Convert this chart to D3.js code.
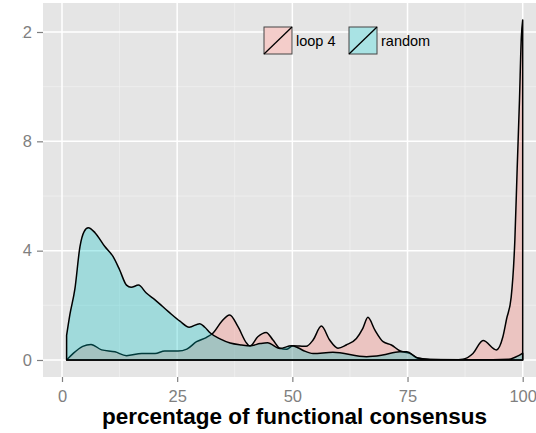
<!DOCTYPE html>
<html lang="en">
<head>
<meta charset="UTF-8">
<title>Functional consensus density</title>
<script src="https://d3js.org/d3.v7.min.js"></script>
<style>
    body { margin: 0; background: #fff; font-family: "Liberation Sans", Arial, sans-serif; }
    .tick text { fill: #7f7f7f; }
    .tick line { stroke: #7f7f7f; stroke-width: 1.2; }
</style>
</head>
<body>
<div id="chart"></div>
<script>
    // density estimates: [percentage, density]
    const loop4 = [
        [1, 0], [2.5, 0.25], [4.5, 0.5], [6.3, 0.57], [8.6, 0.37], [11.5, 0.3], [14, 0.16],
        [17.3, 0.24], [20.2, 0.24], [22.3, 0.33], [25.2, 0.33], [27.1, 0.4], [29.2, 0.67],
        [31.4, 0.83], [32.8, 0.99], [34.6, 1.4], [36.4, 1.65], [38.2, 1.22], [40.1, 0.61],
        [40.8, 0.51], [42.5, 0.85], [44.3, 1.01], [45.8, 0.73], [47.3, 0.43], [48.7, 0.39],
        [50.1, 0.52], [51.6, 0.51], [53, 0.5], [54.5, 0.73], [56.3, 1.24], [58.1, 0.73],
        [59.9, 0.43], [61.7, 0.55], [63.9, 0.79], [65.3, 1.16], [66.4, 1.56], [67.9, 1.1],
        [69.7, 0.67], [71.5, 0.55], [73.3, 0.34], [75.5, 0.24], [77.3, 0.06], [79.8, 0.02],
        [85, 0.01], [87, 0.03], [89.2, 0.24], [91.4, 0.71], [94.3, 0.37], [95.7, 0.85],
        [96.5, 1.5], [97.5, 2.3], [98.3, 4.4], [98.8, 7.0], [99.3, 9.5], [99.7, 11.8], [100, 12.44]
    ];
    const random = [
        [1, 0.9], [1.7, 1.65], [2.8, 2.6], [3.9, 4.15], [4.8, 4.7], [5.7, 4.84], [7.2, 4.65],
        [9.3, 4.15], [11.1, 3.78], [12.5, 3.3], [14, 2.74], [15, 2.66], [16.6, 2.74], [18.3, 2.45],
        [20.2, 2.2], [23.1, 1.77], [25.6, 1.42], [27.6, 1.2], [29.9, 1.33], [31, 1.2], [32.2, 0.99],
        [34.3, 0.77], [36.5, 0.62], [39, 0.55], [40.8, 0.52], [43, 0.6], [44.6, 0.63], [47.3, 0.42],
        [49.8, 0.52], [51.2, 0.45], [52.5, 0.34], [54.5, 0.24], [58.8, 0.28], [66.1, 0.12],
        [69.6, 0.18], [73.3, 0.3], [74.8, 0.3], [77.3, 0.07], [80, 0.02], [90, 0.01], [97, 0.03],
        [99, 0.15], [100, 0.25]
    ];
    const seriesNames = ["loop 4", "random"];
    const seriesColors = ["#F8766D", "#00BFC4"];
    const xTicks = [0, 25, 50, 75, 100];
    const xMinor = [12.5, 37.5, 62.5, 87.5];
    const yTicks = [0, 4, 8, 12];
    const yMinor = [2, 6, 10];

    const W = 536, H = 433;
    const panel = {left: 43, right: 546, top: 3, bottom: 377};

    const svg = d3.select("#chart").append("svg")
        .attr("width", W).attr("height", H);

    const x = d3.scaleLinear().domain([0, 100]).range([62, 522.7]);
    const y = d3.scaleLinear().domain([0, 12]).range([360, 32]);

    svg.append("rect")
        .attr("x", panel.left).attr("y", panel.top)
        .attr("width", panel.right - panel.left).attr("height", panel.bottom - panel.top)
        .attr("fill", "#e5e5e5");

    // grid
    const grid = svg.append("g");
    grid.selectAll(".vminor").data(xMinor).enter().append("line")
        .attr("x1", d => x(d)).attr("x2", d => x(d))
        .attr("y1", panel.top).attr("y2", panel.bottom)
        .attr("stroke", "#f2f2f2").attr("stroke-width", 0.7);
    grid.selectAll(".hminor").data(yMinor).enter().append("line")
        .attr("x1", panel.left).attr("x2", panel.right)
        .attr("y1", d => y(d)).attr("y2", d => y(d))
        .attr("stroke", "#f2f2f2").attr("stroke-width", 0.7);
    grid.selectAll(".vmajor").data(xTicks).enter().append("line")
        .attr("x1", d => x(d)).attr("x2", d => x(d))
        .attr("y1", panel.top).attr("y2", panel.bottom)
        .attr("stroke", "#fff").attr("stroke-width", 1.5);
    grid.selectAll(".hmajor").data(yTicks).enter().append("line")
        .attr("x1", panel.left).attr("x2", panel.right)
        .attr("y1", d => y(d)).attr("y2", d => y(d))
        .attr("stroke", "#fff").attr("stroke-width", 1.5);

    // densities, loop 4 first so random sits on top
    const area = d3.area()
        .x(d => x(d[0]))
        .y0(y(0))
        .y1(d => y(d[1]))
        .curve(d3.curveMonotoneX);

    [loop4, random].forEach((s, i) => {
        svg.append("path")
            .datum(s)
            .attr("d", d => area(d) + "Z")
            .attr("fill", seriesColors[i])
            .attr("fill-opacity", 0.3)
            .attr("stroke", "#000")
            .attr("stroke-width", 1.5)
            .attr("stroke-linejoin", "round");
    });

    // axes
    const xAxis = svg.append("g")
        .attr("transform", "translate(0," + panel.bottom + ")")
        .call(d3.axisBottom(x).tickValues(xTicks).tickSize(5).tickPadding(8));
    xAxis.select(".domain").remove();
    xAxis.selectAll("text").style("font-size", "16.5px");

    // the left edge of the original picture is cut, so are the y labels
    svg.append("clipPath").attr("id", "leftcut")
        .append("rect").attr("x", 22).attr("y", 0).attr("width", W).attr("height", H);

    const yAxis = svg.append("g")
        .attr("clip-path", "url(#leftcut)")
        .append("g")
        .attr("transform", "translate(" + panel.left + ",0)")
        .call(d3.axisLeft(y).tickValues(yTicks).tickSize(6).tickPadding(5));
    yAxis.select(".domain").remove();
    yAxis.selectAll("text").style("font-size", "16.5px");

    svg.append("text")
        .attr("x", (panel.left + panel.right) / 2)
        .attr("y", 424)
        .attr("text-anchor", "middle")
        .style("font-size", "22.5px")
        .style("font-weight", "bold")
        .text("percentage of functional consensus");

    // legend
    const legendX = [264, 349];
    const legend = svg.selectAll(".legend")
        .data(seriesNames)
        .enter().append("g")
        .attr("class", "legend")
        .attr("transform", (d, i) => "translate(" + legendX[i] + ",27)");

    legend.append("rect")
        .attr("width", 28).attr("height", 27)
        .attr("fill", "#f2f2f2");
    legend.append("rect")
        .attr("width", 28).attr("height", 27)
        .attr("fill", (d, i) => seriesColors[i])
        .attr("fill-opacity", 0.3)
        .attr("stroke", "#444")
        .attr("stroke-width", 1);
    legend.append("line")
        .attr("x1", 0).attr("y1", 27).attr("x2", 28).attr("y2", 0)
        .attr("stroke", "#000").attr("stroke-width", 1.3);
    legend.append("text")
        .attr("x", 32).attr("y", 14)
        .attr("dy", "0.35em")
        .style("font-size", "14.5px")
        .attr("fill", "#000")
        .text(d => d);
</script>
</body>
</html>
